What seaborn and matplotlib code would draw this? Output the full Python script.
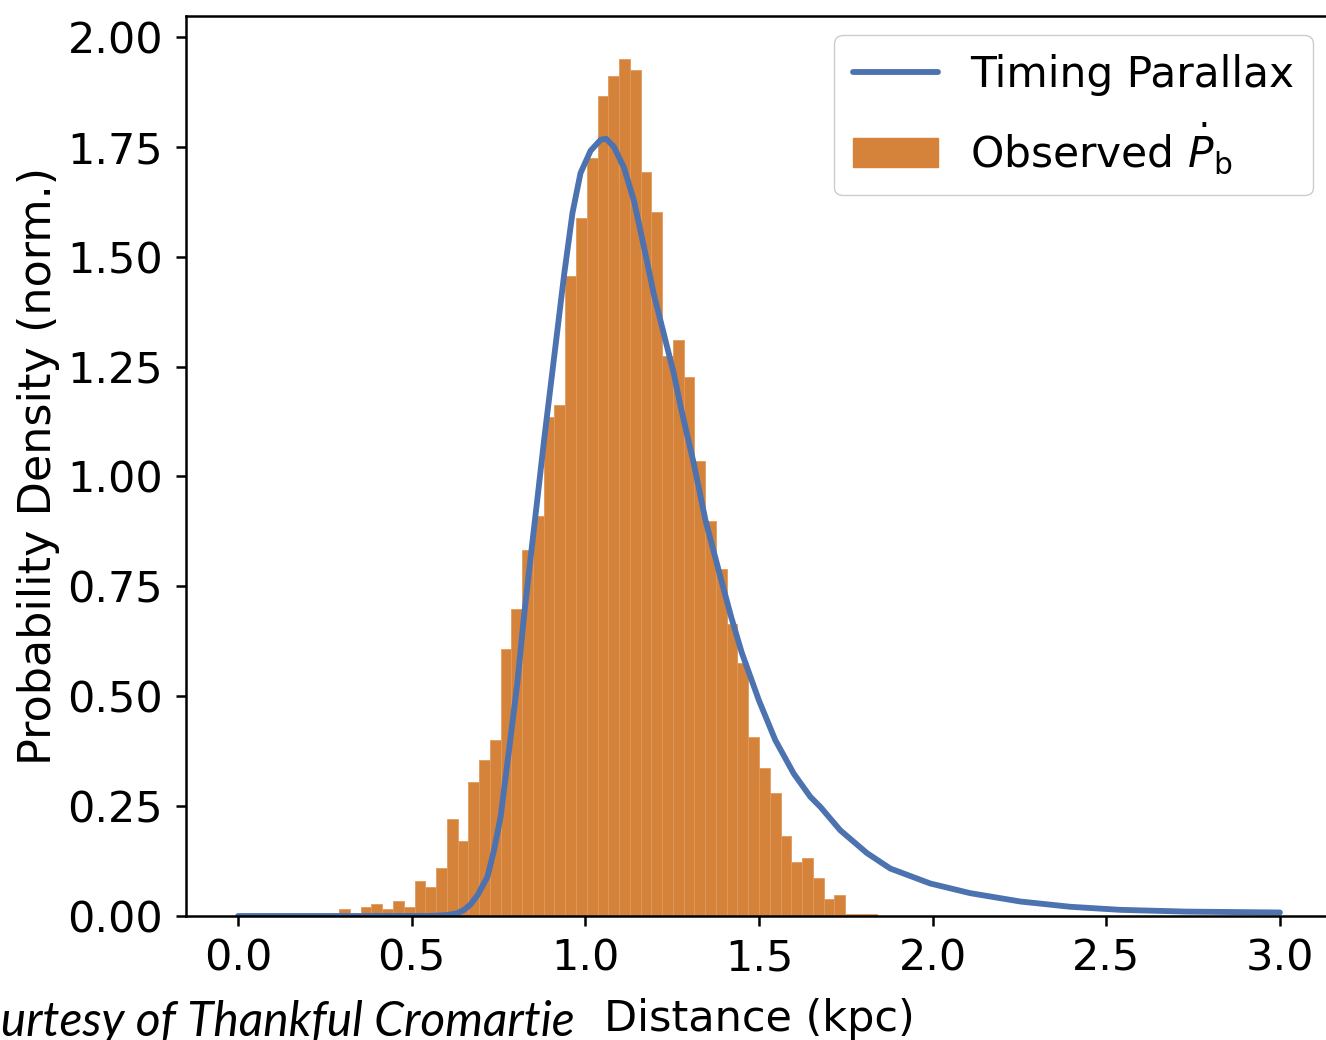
import pandas as pd
import seaborn as sns
import matplotlib.pyplot as plt
from matplotlib.lines import Line2D
from matplotlib.patches import Patch

# histogram of observed Pb-dot distances (50 bins, normalised heights)
bin_start = 0.291
bin_width = 0.031
bar_heights = [
    0.015, 0.004, 0.020, 0.027, 0.015, 0.033, 0.020, 0.080, 0.066, 0.110,
    0.220, 0.170, 0.305, 0.356, 0.400, 0.608, 0.698, 0.833, 0.911, 1.136,
    1.163, 1.455, 1.588, 1.724, 1.866, 1.910, 1.949, 1.924, 1.692, 1.601,
    1.273, 1.311, 1.227, 1.034, 0.899, 0.789, 0.665, 0.576, 0.408, 0.336,
    0.279, 0.181, 0.123, 0.131, 0.086, 0.039, 0.047, 0.004, 0.004, 0.004,
]

# timing parallax density curve
parallax_x = [0.0, 0.2, 0.4, 0.55, 0.6, 0.63, 0.651, 0.67, 0.69, 0.718,
              0.737, 0.756, 0.78, 0.804, 0.823, 0.843, 0.862, 0.881, 0.91, 0.939,
              0.963, 0.986, 1.015, 1.044, 1.06, 1.082, 1.111, 1.14, 1.169, 1.197,
              1.226, 1.255, 1.274, 1.312, 1.346, 1.389, 1.42, 1.45, 1.5, 1.547,
              1.6, 1.648, 1.677, 1.734, 1.811, 1.878, 1.993, 2.108, 2.252, 2.396,
              2.54, 2.731, 3.0]
parallax_y = [0.0, 0.0, 0.0, 0.0, 0.002, 0.006, 0.014, 0.027, 0.048, 0.089,
              0.15, 0.226, 0.377, 0.529, 0.68, 0.82, 0.95, 1.082, 1.271, 1.46,
              1.6, 1.69, 1.741, 1.766, 1.768, 1.75, 1.703, 1.627, 1.521, 1.415,
              1.324, 1.233, 1.16, 1.03, 0.90, 0.771, 0.68, 0.60, 0.49, 0.40,
              0.324, 0.271, 0.248, 0.195, 0.143, 0.108, 0.074, 0.052, 0.033, 0.021,
              0.014, 0.010, 0.008]

blue = '#4c72b0'
orange = '#d5823b'

sns.set_theme(style='ticks')
plt.rcParams['font.family'] = ['DejaVu Sans']
plt.rcParams['mathtext.fontset'] = 'dejavusans'
plt.rcParams['text.color'] = 'black'
plt.rcParams['axes.labelcolor'] = 'black'
plt.rcParams['xtick.color'] = 'black'
plt.rcParams['ytick.color'] = 'black'

edges = [bin_start + bin_width * i for i in range(len(bar_heights) + 1)]
centers = [(edges[i] + edges[i + 1]) / 2 for i in range(len(bar_heights))]
df_hist = pd.DataFrame({'dist': centers, 'w': bar_heights})
df_line = pd.DataFrame({'dist': parallax_x, 'dens': parallax_y})

fig = plt.figure(figsize=(13.26, 10.4), dpi=100)
ax = fig.add_axes([186 / 1326, 124 / 1040, 1146 / 1326, 900 / 1040])

sns.histplot(data=df_hist, x='dist', weights='w', bins=edges, stat='count',
             color=orange, alpha=1.0, edgecolor='#e09a5c', linewidth=0.6, ax=ax)
sns.lineplot(data=df_line, x='dist', y='dens', color=blue, linewidth=4.2, ax=ax)

ax.set_xlim(-0.15, 3.15)
ax.set_ylim(0, 2.0475)
ax.set_xticks([0.0, 0.5, 1.0, 1.5, 2.0, 2.5, 3.0])
ax.set_yticks([0.0, 0.25, 0.5, 0.75, 1.0, 1.25, 1.5, 1.75, 2.0])
ax.set_xticklabels(['0.0', '0.5', '1.0', '1.5', '2.0', '2.5', '3.0'])
ax.set_yticklabels(['0.00', '0.25', '0.50', '0.75', '1.00', '1.25', '1.50', '1.75', '2.00'])
ax.tick_params(axis='both', labelsize=31, length=7.5, width=1.8, color='black',
               labelcolor='black')
ax.tick_params(axis='x', pad=8)
ax.tick_params(axis='y', pad=9)
for s in ax.spines.values():
    s.set_linewidth(1.8)
    s.set_color('black')

ax.set_xlabel('Distance (kpc)', fontsize=31, labelpad=13, color='black')
ax.set_ylabel('Probability Density (norm.)', fontsize=32, labelpad=5, color='black')

handles = [Line2D([0], [0], color=blue, lw=4.2),
           Patch(facecolor=orange, edgecolor=orange)]
leg = ax.legend(handles, ['Timing Parallax', 'Observed $\\dot{P}_\\mathrm{b}$'],
                loc='upper right', fontsize=30.5, frameon=True, fancybox=True,
                framealpha=1, edgecolor='#cccccc', borderaxespad=0.45,
                handlelength=2.0, handletextpad=0.75, labelspacing=0.58,
                borderpad=0.45)
for t in leg.get_texts():
    t.set_color('black')

# credit line, cropped at the left and bottom edges as in the source image
fig.text(575 / 1326, 4 / 1040, 'Courtesy of Thankful Cromartie',
         family=['Lato', 'DejaVu Sans'], style='italic', fontsize=34.5,
         ha='right', va='baseline', color='black')

fig.savefig('out.png', dpi=100)
